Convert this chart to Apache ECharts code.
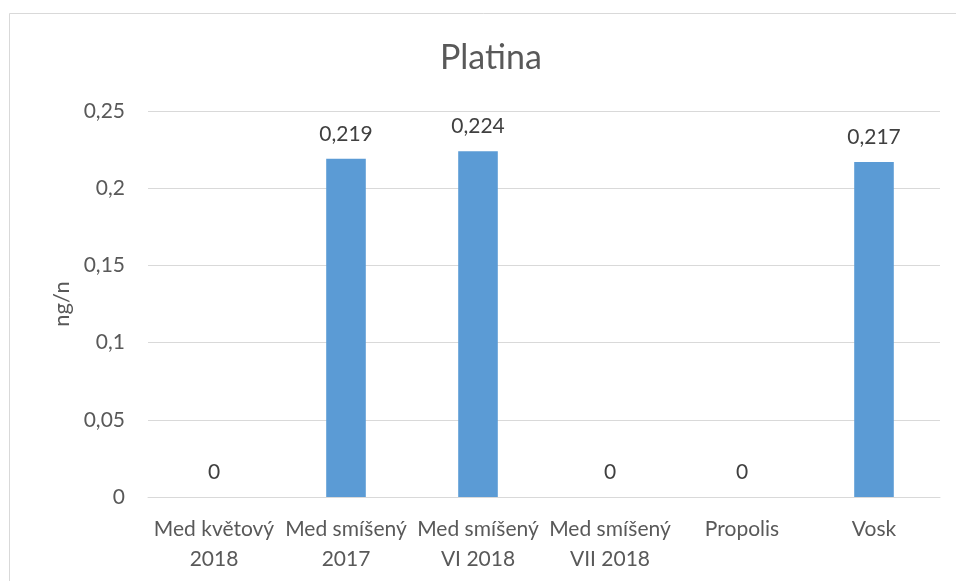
<!DOCTYPE html>
<html>
<head>
<meta charset="utf-8">
<script src="https://cdn.jsdelivr.net/npm/echarts@6/dist/echarts.min.js"></script>
<style>
  html, body { margin: 0; padding: 0; background: #fff; }
  #chart { width: 956px; height: 581px; }
</style>
</head>
<body>
<div id="chart"></div>
<script>
// Platinum content by sample
const categories = ['Med květový\n2018', 'Med smíšený\n2017', 'Med smíšený\nVI 2018', 'Med smíšený\nVII 2018', 'Propolis', 'Vosk'];
const values = [0, 0.219, 0.224, 0, 0, 0.217];
const yTicks = { min: 0, max: 0.25, step: 0.05 };

const FONT = 'Lato, "Open Sans", sans-serif';
const TXT = '#595959';
const fmt = v => String(+v.toFixed(3)).replace('.', ',');

const chart = echarts.init(document.getElementById('chart'), null, { renderer: 'canvas' });
chart.setOption({
  backgroundColor: '#fff',
  animation: false,
  textStyle: { fontFamily: FONT },
  graphic: [{
    type: 'rect',
    shape: { x: 9.5, y: 13.5, width: 1000, height: 1000 },
    style: { fill: 'none', stroke: '#d9d9d9', lineWidth: 1 },
    silent: true
  }],
  title: {
    text: 'Platina',
    left: 435,
    top: 36,
    textStyle: { fontFamily: FONT, fontSize: 34, fontWeight: 'normal', color: TXT }
  },
  grid: { left: 148, right: 16, top: 111, bottom: 84, containLabel: false },
  xAxis: {
    type: 'category',
    data: categories,
    axisLine: { lineStyle: { color: '#d9d9d9', width: 1 } },
    axisTick: { show: false },
    axisLabel: { color: TXT, fontSize: 21, fontFamily: FONT, lineHeight: 30, margin: 17, interval: 0 }
  },
  yAxis: {
    type: 'value',
    min: yTicks.min,
    max: yTicks.max,
    interval: yTicks.step,
    name: 'ng/n',
    nameLocation: 'middle',
    nameGap: 74,
    nameTextStyle: { color: TXT, fontSize: 22, fontFamily: FONT },
    axisLine: { show: false },
    axisTick: { show: false },
    axisLabel: { color: TXT, fontSize: 21, fontFamily: FONT, margin: 23, formatter: fmt },
    splitLine: { lineStyle: { color: '#d9d9d9', width: 1 } }
  },
  series: [{
    type: 'bar',
    data: values,
    barWidth: '30%',
    itemStyle: { color: '#5b9bd5' },
    label: {
      show: true,
      position: 'top',
      distance: 14,
      color: '#404040',
      fontSize: 21,
      fontFamily: FONT,
      formatter: p => fmt(p.value)
    }
  }]
});
</script>
</body>
</html>
